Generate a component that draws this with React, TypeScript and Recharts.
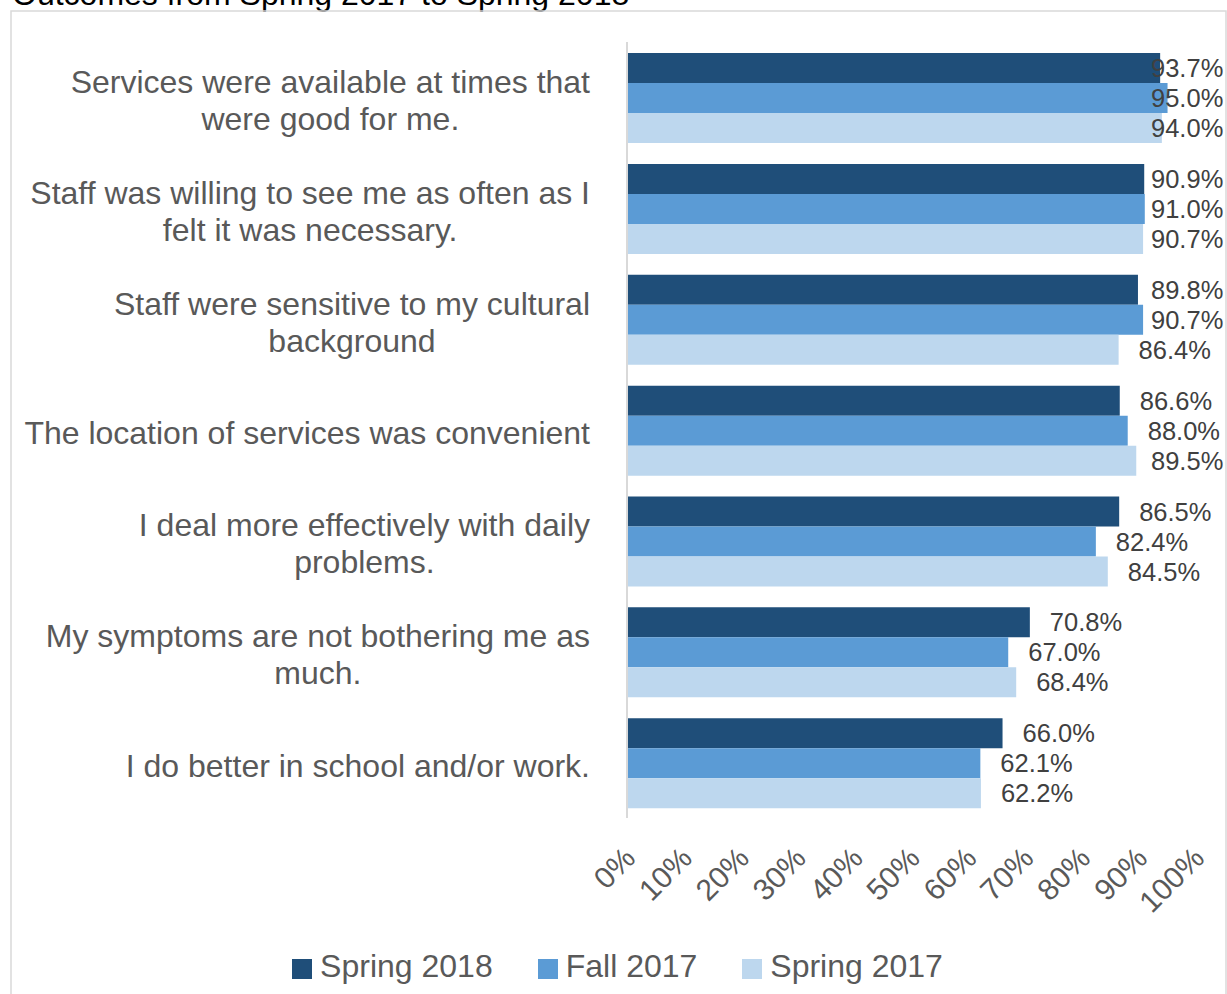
import React from 'react';
import { BarChart, Bar, XAxis, YAxis, Legend, LabelList } from 'recharts';

const title = 'Outcomes from Spring 2017 to Spring 2018';

const categories = [
  'Services were available at times that\nwere good for me.',
  'Staff was willing to see me as often as I\nfelt it was necessary.',
  'Staff were sensitive to my cultural\nbackground',
  'The location of services was convenient',
  'I deal more effectively with daily\nproblems.',
  'My symptoms are not bothering me as\nmuch.',
  'I do better in school and/or work.',
];

const spring2018 = [93.7, 90.9, 89.8, 86.6, 86.5, 70.8, 66.0];
const fall2017 = [95.0, 91.0, 90.7, 88.0, 82.4, 67.0, 62.1];
const spring2017 = [94.0, 90.7, 86.4, 89.5, 84.5, 68.4, 62.2];

const seriesNames = ['Spring 2018', 'Fall 2017', 'Spring 2017'];
const seriesColors = ['#1F4E79', '#5B9BD5', '#BDD7EE'];

const xTicks = [0, 10, 20, 30, 40, 50, 60, 70, 80, 90, 100];

const data = categories.map((c, i) => ({
  category: c,
  s18: spring2018[i],
  f17: fall2017[i],
  s17: spring2017[i],
}));

const FONT = '"Liberation Sans", Arial, sans-serif';
const CAT_FONT_SIZE = 32;

let measureCtx: CanvasRenderingContext2D | null = null;
const measure = (s: string, size: number) => {
  if (!measureCtx) {
    const c = document.createElement('canvas');
    measureCtx = c.getContext('2d');
  }
  if (!measureCtx) return s.length * size * 0.5;
  measureCtx.font = `${size}px "Liberation Sans", Arial, sans-serif`;
  return measureCtx.measureText(s).width;
};

const CategoryTick = (props: any) => {
  const { x, y, payload } = props;
  const lines = String(payload.value).split('\n');
  const n = lines.length;
  const right = x - 37;
  const maxW = Math.max(...lines.map((l) => measure(l, CAT_FONT_SIZE)));
  const cx = right - maxW / 2;
  return (
    <text x={cx} y={y} textAnchor="middle" fontSize={CAT_FONT_SIZE} fill="#595959" fontFamily={FONT}>
      {lines.map((l, i) => (
        <tspan key={i} x={cx} y={y + 14 + (i - (n - 1) / 2) * 37}>
          {l}
        </tspan>
      ))}
    </text>
  );
};

const PercentTick = (props: any) => {
  const { x, y, payload } = props;
  const ax = x + 10;
  const ay = y + 42;
  return (
    <text
      x={ax}
      y={ay}
      textAnchor="end"
      fontSize={30}
      fill="#595959"
      fontFamily={FONT}
      transform={`rotate(-45, ${ax}, ${ay})`}
    >
      {payload.value + '%'}
    </text>
  );
};

const ValueLabel = (props: any) => {
  const { x, y, width, height, value } = props;
  const tx = Math.min(x + width + 20, 1151);
  return (
    <text
      x={tx}
      y={y + height / 2}
      dominantBaseline="central"
      textAnchor="start"
      fontSize={25.5}
      fill="#404040"
      fontFamily={FONT}
    >
      {Number(value).toFixed(1) + '%'}
    </text>
  );
};

const LegendContent = (props: any) => {
  const payload = [...(props.payload || [])].sort(
    (a: any, b: any) => seriesNames.indexOf(a.value) - seriesNames.indexOf(b.value)
  );
  return (
    <div style={{ display: 'flex', justifyContent: 'center', alignItems: 'center', paddingLeft: 8 }}>
      {payload.map((p: any, i: number) => (
        <div key={i} style={{ display: 'flex', alignItems: 'center', marginRight: i < payload.length - 1 ? 45 : 0 }}>
          <div style={{ width: 20, height: 20, background: p.color, marginRight: 8, marginTop: 6 }} />
          <span style={{ fontSize: 32, color: '#595959', fontFamily: FONT, lineHeight: '40px' }}>{p.value}</span>
        </div>
      ))}
    </div>
  );
};

export default function App() {
  return (
    <div style={{ position: 'absolute', left: 0, top: 0, width: 1227, height: 994, overflow: 'hidden', background: '#fff' }}>
      <svg width={1227} height={994} style={{ position: 'absolute', left: 0, top: 0 }}>
        <text x={12} y={5} fontSize={32} fill="#000" fontFamily={FONT}>{title}</text>
        <rect x={11} y={11} width={1215} height={1000} fill="none" stroke="#d9d9d9" strokeWidth={1.5} />
      </svg>
      <div style={{ position: 'absolute', left: 0, top: 0 }}>
        <BarChart
          width={1227}
          height={994}
          data={data}
          layout="vertical"
          margin={{ top: 42, right: 31, bottom: 76, left: 0 }}
          barCategoryGap="10%"
          barGap={0}
        >
          <XAxis
            type="number"
            domain={[0, 100]}
            ticks={xTicks}
            interval={0}
            axisLine={false}
            tickLine={false}
            tickSize={0}
            tickMargin={0}
            height={100}
            tick={<PercentTick />}
          />
          <YAxis
            type="category"
            dataKey="category"
            width={627}
            axisLine={{ stroke: '#d9d9d9', strokeWidth: 2 }}
            tickLine={false}
            tickSize={0}
            tickMargin={0}
            interval={0}
            tick={<CategoryTick />}
          />
          <Legend
            layout="horizontal"
            verticalAlign="middle"
            align="center"
            wrapperStyle={{ position: 'absolute', top: 946, left: 0, width: 1227 }}
            content={<LegendContent />}
          />
          <Bar dataKey="s18" name={seriesNames[0]} fill={seriesColors[0]} isAnimationActive={false}>
            <LabelList dataKey="s18" content={<ValueLabel />} />
          </Bar>
          <Bar dataKey="f17" name={seriesNames[1]} fill={seriesColors[1]} isAnimationActive={false}>
            <LabelList dataKey="f17" content={<ValueLabel />} />
          </Bar>
          <Bar dataKey="s17" name={seriesNames[2]} fill={seriesColors[2]} isAnimationActive={false}>
            <LabelList dataKey="s17" content={<ValueLabel />} />
          </Bar>
        </BarChart>
      </div>
    </div>
  );
}
